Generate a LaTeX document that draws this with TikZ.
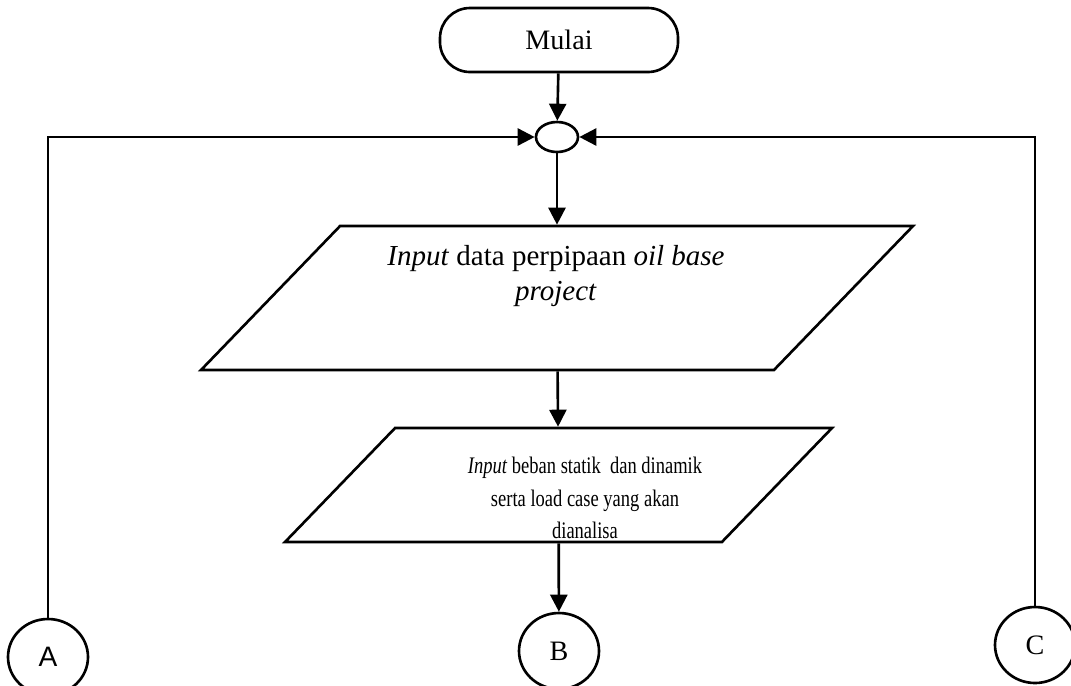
\documentclass[tikz,border=0pt]{standalone}
\usepackage{fontspec}
\setmainfont{Liberation Serif}
\newfontfamily\sempit[FakeStretch=0.78]{Liberation Serif}
\newfontfamily\tegak{Liberation Sans}
\usetikzlibrary{shapes.geometric,arrows.meta}

\begin{document}
\begin{tikzpicture}[
  line width=1.5pt,
  panah/.style={-{Triangle[length=0.34cm,width=0.34cm]}},
  masukan/.style={draw,trapezium,trapezium left angle=46,trapezium right angle=134,
    trapezium stretches body=true,inner xsep=2pt},
  konektor/.style={draw,ellipse,minimum width=1.6cm,minimum height=1.52cm,inner sep=0pt,
    font=\fontsize{16}{18}\selectfont}
]
  \useasboundingbox (0,0) rectangle (21.42cm,-13.7cm);

  \node[draw,rounded corners=0.6cm,minimum width=4.76cm,minimum height=1.28cm,
    font=\fontsize{16}{19}\selectfont] (mulai) at (11.18cm,-0.8cm) {Mulai};
  \node[draw,ellipse,minimum width=0.84cm,minimum height=0.6cm,inner sep=0pt] (sambung) at (11.14cm,-2.74cm) {};

  \node[masukan,inner ysep=1.44cm,minimum width=14.24cm] (datainput) at (11.14cm,-5.96cm) {};
  \node[align=center,font=\fontsize{16.5}{20}\selectfont] (datateks) at (11.12cm,-5.52cm)
    {\textit{Input} data perpipaan \textit{oil base}\\ \textit{project}};

  \node[masukan,inner ysep=1.14cm,minimum width=10.94cm] (bebaninput) at (11.17cm,-9.7cm) {};
  \node[align=center,font=\sempit\fontsize{13.5}{18.5}\selectfont] (bebanteks) at (11.7cm,-9.96cm)
    {\textit{Input} beban statik~ dan dinamik\\ serta load case yang akan\\ dianalisa};

  \node[konektor,font=\tegak\fontsize{16}{18}\selectfont] (A) at (0.96cm,-13.14cm) {A};
  \node[konektor] (B) at (11.18cm,-13.02cm) {B};
  \node[konektor] (C) at (20.7cm,-12.9cm) {C};

  \draw[panah] (mulai) -- (sambung);
  \draw[panah] (A) |- (sambung);
  \draw[panah] (C) |- (sambung);
  \draw[panah] (sambung) -- (datainput);
  \draw[panah] (datainput) -- (bebaninput);
  \draw[panah] (bebaninput) -- (B);
\end{tikzpicture}
\end{document}
